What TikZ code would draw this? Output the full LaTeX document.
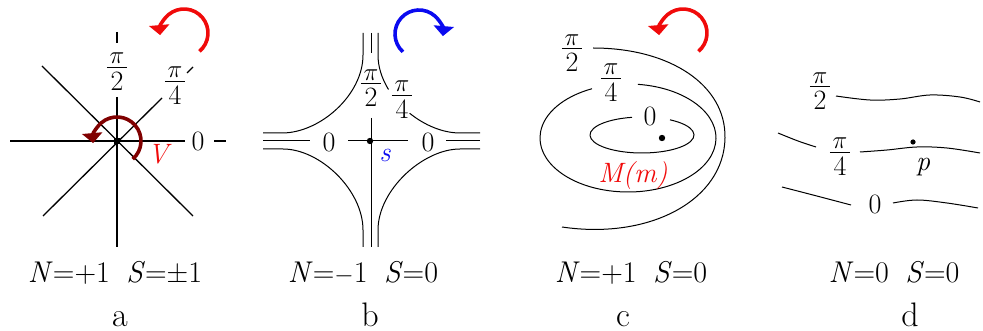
\documentclass[tikz,border=0pt]{standalone}
\usetikzlibrary{arrows.meta}
\definecolor{arrred}{RGB}{240,10,10}
\definecolor{darkred}{RGB}{128,0,0}
\definecolor{arrblue}{RGB}{10,10,240}
\newcommand\pifrac[1]{\vbox{\offinterlineskip\halign{\hfil##\hfil\cr$\pi$\cr\noalign{\kern3pt}\rule{0.72em}{1.2pt}\cr\noalign{\kern4pt}#1\cr}}}
\begin{document}
\begin{tikzpicture}[x=1pt,y=-1pt,
  thin/.style={line width=1pt},
  axis/.style={line width=1.3pt},
  rot/.style={line width=3.6pt,-{Triangle[length=10pt,width=20pt]}},
  lab/.style={font=\fontsize{28}{32}\selectfont,inner sep=0pt},
  big/.style={font=\fontsize{30}{34}\selectfont,anchor=base,inner sep=0pt},
  letter/.style={font=\fontsize{34}{38}\selectfont,anchor=base,inner sep=0pt}]
\useasboundingbox (0,0) rectangle (983,331);

% ---------- panel a ----------
\coordinate (ac) at (117,141);
\draw[axis] (10,141) -- (185,141);
\draw[axis] (214,141) -- (226,141);
\draw[axis] (117,32) -- (117,43);
\draw[axis] (117,97) -- (117,247);
\draw[axis] (42,66) -- (193,216);
\draw[axis] (43,216) -- (162,98);
\draw[axis] (187,73) -- (193,67);
\fill (114,138) rectangle (120,144);
\node[lab] (a0) at (198,141) {0};
\node[lab] (a2) at (117,72) {\pifrac{2}};
\node[lab] (a4) at (175,86) {\pifrac{4}};
\node[lab,text=arrred] (aV) at (158,154) {\itshape V};
\draw[rot,darkred] (ac) ++(49:24) arc[start angle=49,end angle=-185,radius=24];
\draw[rot,arrred] (184,33) ++(50:24) arc[start angle=50,end angle=-185,radius=24];
\node[big] (aN) at (115,283) {\textit{N}=+1\hspace{0.55em}\textit{S}=±1};
\node[letter] (aL) at (120,326) {a};

% ---------- panel b ----------
\coordinate (bc) at (370,141);
\draw[thin] (263,133) -- (282,133) .. controls (320,133) and (363,95) .. (363,55) -- (363,33);
\draw[thin] (378,33) -- (378,55) .. controls (378,67) and (381.96,78.82) .. (388.5,89.5);
\draw[thin] (409.6,113.2) .. controls (424.6,125.3) and (442.9,133) .. (460,133) -- (480,133);
\draw[thin] (263,149) -- (283,149) .. controls (320,149) and (363,190) .. (363,230) -- (363,247);
\draw[thin] (480,149) -- (460,149) .. controls (423,149) and (378,190) .. (378,230) -- (378,247);
\draw[thin] (263,141) -- (310,141);
\draw[thin] (348,141) -- (408,141);
\draw[thin] (446,141) -- (480,141);
\draw[thin] (371,33) -- (371,53);
\draw[thin] (371,118) -- (371,247);
\fill (bc) circle[radius=3.2];
\node[lab] (b2) at (371,88) {\pifrac{2}};
\node[lab] (b4) at (402,100) {\pifrac{4}};
\node[lab] (b0l) at (329,142) {0};
\node[lab] (b0r) at (428,142) {0};
\node[lab,text=arrblue] (bs) at (385,155) {\itshape s};
\draw[rot,arrblue] (419,34) ++(132:24) arc[start angle=132,end angle=365,radius=24];
\node[big] (bN) at (363,283) {\textit{N}=$-$1\hspace{0.55em}\textit{S}=0};
\node[letter] (bL) at (370,326) {b};

% ---------- panel c ----------
\draw[thin] (628,138) ++(-83.5:88 and 54) arc[start angle=-83.5,end angle=245.85,x radius=88,y radius=54];
\draw[thin] (642,135) ++(-57.4:52 and 18) arc[start angle=-57.4,end angle=258.9,x radius=52,y radius=18];
\draw[thin] (593,48) .. controls (670,48) and (726,85) .. (725,138) .. controls (724,200) and (650,240) .. (562,227);
\fill (662,138) circle[radius=3.2];
\node[lab] (c2) at (572,53) {\pifrac{2}};
\node[lab] (c4) at (611,83) {\pifrac{4}};
\node[lab] (c0) at (650,116) {0};
\node[lab,text=arrred] (cM) at (633,176) {\itshape M(m)};
\draw[rot,arrred] (683,33) ++(50:24) arc[start angle=50,end angle=-185,radius=24];
\node[big] (cN) at (631,283) {\textit{N}=+1\hspace{0.55em}\textit{S}=0};
\node[letter] (cL) at (623,326) {c};

% ---------- panel d ----------
\draw[thin] plot[smooth,tension=0.6] coordinates {(836,96) (870,100) (900,99) (930,95) (960,97) (980,102)};
\draw[thin] plot[smooth,tension=0.6] coordinates {(778,133) (798,141) (816,147)};
\draw[thin] plot[smooth,tension=0.6] coordinates {(860,152) (887,150) (917,147) (947,148) (980,153)};
\draw[thin] plot[smooth,tension=0.6] coordinates {(782,187) (813,195) (851,205)};
\draw[thin] plot[smooth,tension=0.6] coordinates {(893,203) (917,200) (947,203) (978,208)};
\fill (913,142) circle[radius=2.6];
\node[lab] (d2) at (820,91) {\pifrac{2}};
\node[lab] (d4) at (840,157) {\pifrac{4}};
\node[lab] (d0) at (875,204) {0};
\node[lab] (dp) at (923,167) {\itshape p};
\node[big] (dN) at (894,283) {\textit{N}=0\hspace{0.55em}\textit{S}=0};
\node[letter] (dL) at (910,326) {d};
\end{tikzpicture}
\end{document}
